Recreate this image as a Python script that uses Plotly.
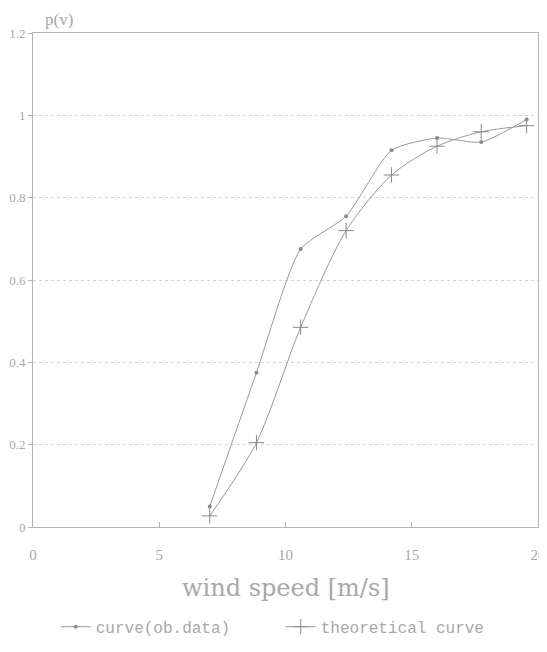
import plotly.graph_objects as go

# Wind speed bins [m/s]
wind_speed = [7.0, 8.85, 10.6, 12.4, 14.2, 16.0, 17.75, 19.55]
# Observed cumulative probability p(v)
observed = [0.05, 0.375, 0.675, 0.755, 0.915, 0.945, 0.935, 0.99]
# Theoretical cumulative probability p(v)
theoretical = [0.027, 0.205, 0.485, 0.72, 0.855, 0.925, 0.96, 0.975]

x_ticks = [0, 5, 10, 15, 20]
y_ticks = [0, 0.2, 0.4, 0.6, 0.8, 1.0, 1.2]

FONT = "Liberation Serif"
TXT = "#a8a8a8"
LINE = "#9a9a9a"
AX = "#b4b4b4"

fig = go.Figure()
fig.add_trace(go.Scatter(
    x=wind_speed, y=observed, name="curve(ob.data)",
    mode="lines+markers", line=dict(color=LINE, width=1, shape="spline", smoothing=0.6),
    marker=dict(symbol="circle", size=4, color="#8a8a8a"),
))
fig.add_trace(go.Scatter(
    x=wind_speed, y=theoretical, name="theoretical curve",
    mode="lines+markers", line=dict(color=LINE, width=1, shape="spline", smoothing=0.8),
    marker=dict(symbol="cross-thin", size=11, line=dict(color="#8a8a8a", width=1)),
))

fig.update_layout(
    width=547, height=652,
    margin=dict(l=25, r=17, t=25, b=133, autoexpand=False),
    paper_bgcolor="white", plot_bgcolor="white",
    font=dict(family=FONT, color=TXT, size=14),
    showlegend=True,
    legend=dict(orientation="h", x=0.045, xanchor="left", y=-0.202, yanchor="middle",
                font=dict(family="Liberation Mono", size=16, color=TXT),
                itemwidth=30, entrywidth=180, entrywidthmode="pixels",
                tracegroupgap=0, bgcolor="rgba(0,0,0,0)"),
    xaxis=dict(range=[0, 20], tickvals=x_ticks, ticktext=[str(v) for v in x_ticks],
               showgrid=False, zeroline=False, showline=True, linecolor=AX, linewidth=1,
               mirror=True, ticks="inside", ticklen=5, tickcolor=AX, automargin=False,
               ticklabelstandoff=14, tickfont=dict(size=15, color=TXT)),
    yaxis=dict(range=[0, 1.2], tickvals=y_ticks, ticktext=["0", "0.2", "0.4", "0.6", "0.8", "1", "1.2"],
               showgrid=True, gridcolor="#d4d4d4", griddash="dot", gridwidth=1,
               zeroline=False, showline=True, linecolor=AX, linewidth=1, automargin=False,
               mirror=True, ticks="outside", ticklen=4, tickcolor=AX,
               tickfont=dict(size=13, color=TXT)),
    annotations=[
        dict(text="p(v)", xref="paper", yref="paper", x=0.02, y=1.0, xanchor="left",
             yanchor="bottom", yshift=2, showarrow=False, font=dict(family=FONT, size=17, color=TXT)),
        dict(text="wind speed [m/s]", xref="paper", yref="paper", x=0.5, y=0, xanchor="center",
             yanchor="middle", yshift=-61, showarrow=False, font=dict(family="DejaVu Serif", size=24, color=TXT)),
    ],
)

fig.write_html("out.html")
